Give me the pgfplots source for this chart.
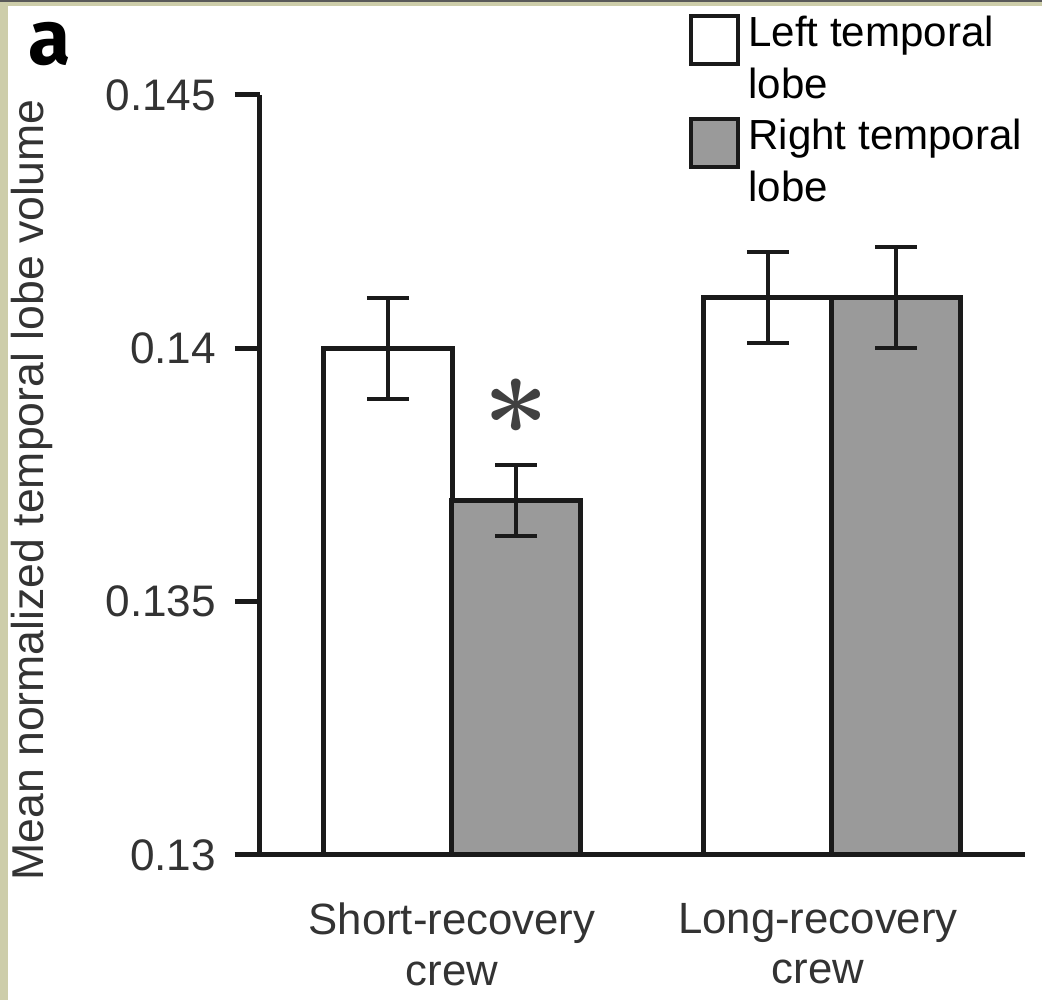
\documentclass[border=0pt]{standalone}
\usepackage{fontspec}
\setmainfont{Liberation Sans}
\newfontfamily\panelfont{Fira Sans}
\newfontfamily\lmfont{Latin Modern Roman}
\usepackage{pgfplots}
\pgfplotsset{compat=1.18}
\definecolor{framebg}{HTML}{CDCDAA}
\definecolor{barfill}{HTML}{9A9A9A}
\definecolor{ink}{HTML}{1A1A1A}
\definecolor{txt}{HTML}{333333}

\begin{document}
\begin{tikzpicture}
% page frame (1042 x 1000 px at 0.24pt/px), axis origin at (260px,855px)
\fill[framebg] (-62.4pt,-34.8pt) rectangle (187.68pt,205.2pt);
\fill[gray!70!black] (-62.4pt,204.6pt) rectangle (187.68pt,205.2pt);
\fill[white] (-60.48pt,-34.8pt) rectangle (187.68pt,203.76pt);
\path[use as bounding box] (-62.4pt,-34.8pt) rectangle (187.68pt,205.2pt);

\begin{axis}[
    scale only axis,
    width=183.6pt, height=182.4pt,
    xmin=-0.5053, xmax=1.5079,
    ymin=0.13, ymax=0.145,
    axis x line=bottom, axis y line=left,
    axis line style={-, ink, line width=1.2pt},
    x axis line style={shorten <=-6pt},
    ytick={0.13,0.135,0.14,0.145},
    yticklabels={0.13,0.135,0.14,0.145},
    xtick={0,0.963},
    xticklabels={{Short-recovery\\crew},{Long-recovery\\crew}},
    xtick style={draw=none},
    ytick style={ink, line width=1.2pt},
    tick align=outside,
    major tick length=6pt,
    yticklabel style={font=\fontsize{10.6}{12}\selectfont, text=txt, xshift=-1pt},
    xticklabel style={font=\fontsize{10.5}{12.1}\selectfont, text=txt, align=center, yshift=-2pt},
    every axis y label/.style={at={(axis description cs:0,0.48)}, xshift=-54.7pt,
        rotate=90, anchor=center, font=\fontsize{10.7}{12}\selectfont, text=txt},
    ylabel={Mean normalized temporal lobe volume},
    ybar, bar width=0.34,
    legend style={at={(axis description cs:0.5595,1.124)}, anchor=north west,
        draw=none, fill=none, inner sep=0pt, row sep=9.1pt, column sep=0pt,
        cells={anchor=base west},
        font=\fontsize{10.1}{12.5}\selectfont},
    legend image code/.code={\draw[#1, line width=1pt, draw=ink] (0pt,-4.3pt) rectangle (11.3pt,7.2pt);},
]
\addplot[fill=white, draw=ink, line width=1.2pt, bar shift=-0.169,
    error bars/.cd, y dir=both, y explicit,
    error bar style={ink, line width=0.9pt},
    error mark options={rotate=90, mark size=5pt, ink, line width=0.9pt}]
    coordinates {(0,0.1400) +- (0,0.0010) (1,0.1410) +- (0,0.0009)};
\addlegendentry{\begin{tabular}[t]{@{}l@{}}Left temporal\\lobe\end{tabular}}
\addplot[fill=barfill, draw=ink, line width=1.2pt, bar shift=0.169,
    error bars/.cd, y dir=both, y explicit,
    error bar style={ink, line width=0.9pt},
    error mark options={rotate=90, mark size=5pt, ink, line width=0.9pt}]
    coordinates {(0,0.1370) +- (0,0.0007) (1,0.1410) +- (0,0.0010)};
\addlegendentry{\begin{tabular}[t]{@{}l@{}}Right temporal\\lobe\end{tabular}}
\node[text=black!75, font={\lmfont\bfseries\fontsize{28}{28}\selectfont}, inner sep=0pt]
    at (axis cs:0.168,0.13854) {*};
\end{axis}

\node[anchor=base west, inner sep=0pt, font=\panelfont\bfseries\fontsize{18.5}{18.5}\selectfont]
    at (-55.68pt,189.6pt) {a};
\end{tikzpicture}
\end{document}
